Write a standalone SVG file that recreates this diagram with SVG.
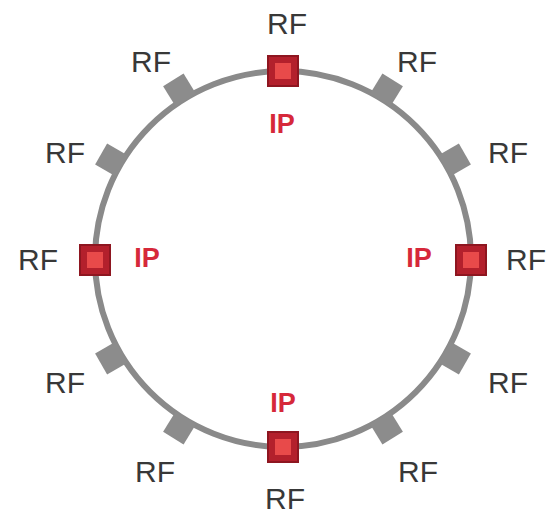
<svg xmlns="http://www.w3.org/2000/svg" width="552" height="517" viewBox="0 0 552 517">
<style>
.rf{font-family:"Liberation Sans",Arial,sans-serif;font-size:30px;fill:#383838;text-anchor:middle}
.ip{font-family:"Liberation Sans",Arial,sans-serif;font-size:27px;font-weight:bold;fill:#d6283a;text-anchor:middle}
.g{fill:#8c8c8c}
.ro{fill:#b3202c;stroke:#8e1620;stroke-width:2}
.ri{fill:#e84a4a}
</style>
<defs>
<rect id="gs" class="g" x="-12" y="-12" width="24" height="24"/>
<g id="rs"><rect class="ro" x="-15" y="-15" width="30" height="30"/><rect class="ri" x="-8" y="-8" width="16" height="16"/></g>
</defs>
<rect width="552" height="517" fill="#fff"/>
<g id="connectors">
<circle cx="283" cy="259" r="188" fill="none" stroke="#8a8a8a" stroke-width="6"/>
</g>
<g id="rf-nodes">
<use href="#gs" transform="translate(386.4,90.1) rotate(31.5)"/>
<use href="#gs" transform="translate(454.5,160) rotate(60)"/>
<use href="#gs" transform="translate(454.5,358) rotate(120)"/>
<use href="#gs" transform="translate(386.4,427.9) rotate(148.5)"/>
<use href="#gs" transform="translate(179.6,427.9) rotate(211.5)"/>
<use href="#gs" transform="translate(111.5,358) rotate(240)"/>
<use href="#gs" transform="translate(111.5,160) rotate(300)"/>
<use href="#gs" transform="translate(179.6,90.1) rotate(328.5)"/>
</g>
<g id="ip-top"><use href="#rs" transform="translate(283,71)"/><text class="ip" x="282" y="133">IP</text></g>
<g id="ip-left"><use href="#rs" transform="translate(95,260)"/><text class="ip" x="147" y="267">IP</text></g>
<g id="ip-right"><use href="#rs" transform="translate(471,260)"/><text class="ip" x="419" y="267">IP</text></g>
<g id="ip-bottom"><use href="#rs" transform="translate(283,447)"/><text class="ip" x="283" y="412">IP</text></g>
<g id="labels">
<text class="rf" x="287" y="34">RF</text>
<text class="rf" x="151" y="72">RF</text>
<text class="rf" x="417" y="72">RF</text>
<text class="rf" x="65" y="163">RF</text>
<text class="rf" x="508" y="163">RF</text>
<text class="rf" x="38" y="270">RF</text>
<text class="rf" x="526" y="270">RF</text>
<text class="rf" x="65" y="393">RF</text>
<text class="rf" x="508" y="393">RF</text>
<text class="rf" x="155" y="482">RF</text>
<text class="rf" x="418" y="482">RF</text>
<text class="rf" x="285" y="509">RF</text>
</g>
</svg>
